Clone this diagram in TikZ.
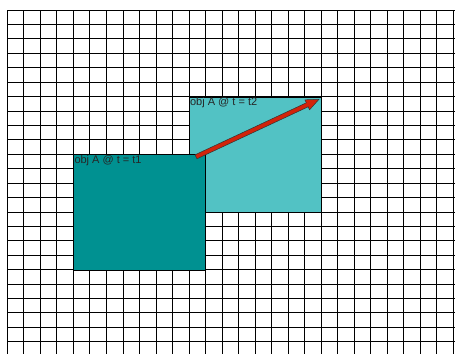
\documentclass[tikz,border=0pt]{standalone}
\usepackage{fontspec}
\setmainfont{Liberation Sans}
\usetikzlibrary{calc}
\definecolor{darkteal}{RGB}{0,145,145}
\definecolor{lightteal}{RGB}{82,194,196}
\definecolor{arrowred}{RGB}{210,35,10}
\begin{document}
\begin{tikzpicture}[x=1pt,y=-1pt,
  gridline/.style={black,line width=0.7pt},
  objbox/.style={draw=black,line width=0.5pt},
  objlabel/.style={anchor=north west,inner sep=1pt,font=\fontsize{11}{13}\selectfont,text=black!85}]
\useasboundingbox (0,0) rectangle (455,354);
\fill[white] (0,0) rectangle (455,354);
% grid
\foreach \k in {0,...,27}{
  \draw[gridline] ({7.3+16.507*\k},10) -- ({7.3+16.507*\k},354);
}
\foreach \k in {0,...,23}{
  \draw[gridline] (7.3,{10+14.42*\k}) -- (455,{10+14.42*\k});
}
% boxes
\node[objbox,fill=lightteal,minimum width=132pt,minimum height=115.4pt,inner sep=0pt,anchor=north west] (B) at (188.9,96.5) {};
\node[objbox,fill=darkteal,minimum width=132.1pt,minimum height=115.4pt,inner sep=0pt,anchor=north west] (A) at (73.3,154.2) {};
\node[objlabel] (la) at (A.north west) {obj A @ t = t1};
\node[objlabel] (lb) at (B.north west) {obj A @ t = t2};
% arrow
\coordinate (t) at (196,156.8);
\coordinate (h) at (319,99.3);
\coordinate (hb) at ($(h)!13pt!(t)$);
\filldraw[fill=arrowred,draw=black!80,line width=0.5pt,line join=miter]
  ($(t)!2.2pt!90:(h)$) -- ($(hb)!2.2pt!-90:(t)$) -- ($(hb)!5.5pt!-90:(t)$) -- (h)
  -- ($(hb)!5.5pt!90:(t)$) -- ($(hb)!2.2pt!90:(t)$) -- ($(t)!2.2pt!-90:(h)$) -- cycle;
\end{tikzpicture}
\end{document}
